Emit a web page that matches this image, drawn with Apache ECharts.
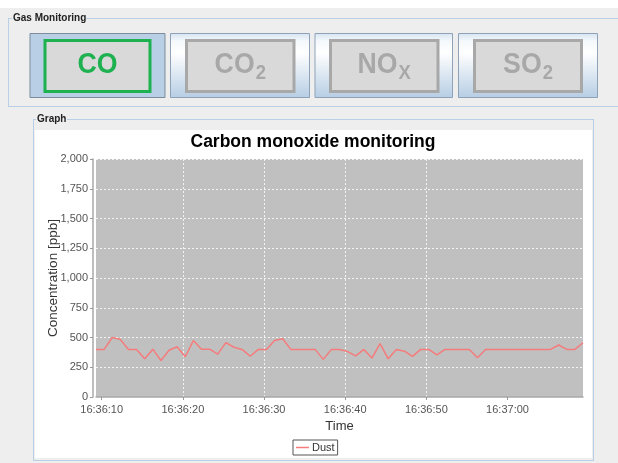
<!DOCTYPE html>
<html>
<head>
<meta charset="utf-8">
<script src="https://cdn.jsdelivr.net/npm/echarts@6/dist/echarts.min.js"></script>
<style>
html,body{margin:0;padding:0;background:#eeeeee;}
#c{width:618px;height:463px;}
</style>
</head>
<body>
<div id="c"></div>
<script>
// ---------------- data ----------------
const chartTitle = 'Carbon monoxide monitoring';
const panelTitle = 'Gas Monitoring';
const graphTitle = 'Graph';
const yAxisName = 'Concentration [ppb]';
const xAxisName = 'Time';
const seriesName = 'Dust';
const gasMain = ['CO', 'CO', 'NO', 'SO'];
const gasSub  = ['',   '2',  'X',  '2'];
// sample times, seconds after 16:36:00
const timeSec = [9.3,10.3,11.3,12.3,13.3,14.3,15.3,16.3,17.3,18.3,19.3,20.3,21.3,22.3,23.3,24.3,25.3,26.3,27.3,28.3,
  29.3,30.3,31.3,32.3,33.3,34.3,35.3,36.3,37.3,38.3,39.3,40.3,41.3,42.3,43.3,44.3,45.3,46.3,47.3,48.3,
  49.3,50.3,51.3,52.3,53.3,54.3,55.3,56.3,57.3,58.3,59.3,60.3,61.3,62.3,63.3,64.3,65.3,66.3,67.3,68.3,69.3];
const dust = [400,400,500,483,400,400,322,402,307,393,422,338,474,402,402,360,457,418,400,342,
  400,400,474,490,400,400,400,400,316,400,400,382,346,400,327,449,321,400,385,341,
  400,400,355,400,400,400,400,330,400,400,400,400,400,400,400,400,400,437,400,400,456];
const xTickSec = [10, 20, 30, 40, 50, 60];
const xTickLabels = ['16:36:10', '16:36:20', '16:36:30', '16:36:40', '16:36:50', '16:37:00'];
const yMin = 0, yMax = 2000, yStep = 250;

// ---------------- layout / style ----------------
const FONT = '"Liberation Sans", Arial, sans-serif';
const BLUE = '#b8cfe5';
const ZB = -20;
const mctx = document.createElement('canvas').getContext('2d');
function tw(text, size, weight) { mctx.font = (weight || 'normal') + ' ' + size + 'px ' + FONT; return mctx.measureText(text).width; }
function hline(x1, x2, y) { return {type:'line', z:ZB, silent:true, shape:{x1:x1, y1:y, x2:x2, y2:y}, style:{stroke:BLUE, lineWidth:1}}; }
function vline(x, y1, y2) { return {type:'line', z:ZB, silent:true, shape:{x1:x, y1:y1, x2:x, y2:y2}, style:{stroke:BLUE, lineWidth:1}}; }

const g = [];
g.push({type:'rect', z:ZB, silent:true, shape:{x:0, y:0, width:618, height:8}, style:{fill:'#ffffff'}});
// Gas Monitoring titled border
g.push(hline(8, 12, 18.5), hline(86, 618, 18.5), hline(8, 618, 106.5), vline(8.5, 18.5, 106.5));
g.push({type:'text', z:ZB, silent:true, x:13, y:18.5, style:{text:panelTitle, fontSize:10, fontWeight:'bold', fontFamily:FONT, fill:'#222', align:'left', verticalAlign:'middle'}});
// Graph titled border
g.push(hline(33, 36, 119.5), hline(67, 594, 119.5), hline(33, 594, 460.5), vline(33.5, 119.5, 460.5), vline(593.5, 119.5, 460.5));
g.push({type:'text', z:ZB, silent:true, x:37, y:119.5, style:{text:graphTitle, fontSize:10, fontWeight:'bold', fontFamily:FONT, fill:'#222', align:'left', verticalAlign:'middle'}});
g.push({type:'rect', z:ZB - 1, silent:true, shape:{x:35, y:130, width:557, height:328}, style:{fill:'#ffffff'}});

// buttons
const btnBox = [[29.5, 165.5], [170, 310], [314.5, 453], [458, 598]];
const innerBox = [[43.5, 151.5], [185, 295.5], [329, 439.5], [473, 583]];
const SX = 0.92, MAIN = 29, SUB = 20;
for (let i = 0; i < 4; i++) {
  const sel = i === 0;
  const [bx1, bx2] = btnBox[i];
  g.push({type:'rect', z:ZB, silent:true, shape:{x:bx1 + 0.5, y:33.5, width:bx2 - bx1 - 1, height:64},
    style:{fill: sel ? '#b8cfe6' : new echarts.graphic.LinearGradient(0, 0, 0, 1, [
      {offset:0, color:'#d5e3f1'}, {offset:0.12, color:'#f4f8fc'}, {offset:0.3, color:'#ffffff'}, {offset:1, color:'#b6cde4'}]),
      stroke: sel ? '#7d8c9b' : '#8fa3b8', lineWidth:1}});
  const [ix1, ix2] = innerBox[i];
  const col = sel ? '#1db150' : '#a8a8a8';
  g.push({type:'rect', z:ZB + 1, silent:true, shape:{x:ix1 + 1.5, y:40.5, width:ix2 - ix1 - 3, height:51},
    style:{fill:'#d9d9d9', stroke:col, lineWidth:3}});
  const wm = tw(gasMain[i], MAIN, 'bold') * SX;
  const ws = gasSub[i] ? tw(gasSub[i], SUB, 'bold') * SX + 1 : 0;
  const left = (ix1 + ix2) / 2 - (wm + ws) / 2;
  g.push({type:'text', z:ZB + 2, silent:true, x:left, y:65, scaleX:SX, style:{text:gasMain[i], fontSize:MAIN, fontWeight:'bold', fontFamily:FONT, fill:col, align:'left', verticalAlign:'middle'}});
  if (gasSub[i]) {
    g.push({type:'text', z:ZB + 2, silent:true, x:left + wm + 1, y:73, scaleX:SX, style:{text:gasSub[i], fontSize:SUB, fontWeight:'bold', fontFamily:FONT, fill:col, align:'left', verticalAlign:'middle'}});
  }
}

const chart = echarts.init(document.getElementById('c'), null, {renderer:'canvas', width:618, height:463});
chart.setOption({
  animation: false,
  backgroundColor: '#eeeeee',
  graphic: {elements: g},
  title: {
    text: chartTitle, left: 313, top: 133, textAlign: 'center', padding: 0,
    textStyle: {fontSize: 17.5, fontWeight: 'bold', fontFamily: FONT, color: '#000'}
  },
  legend: {
    left: 293, top: 440, padding: [2, 3, 2, 3], itemWidth: 13, itemHeight: 1.5, itemGap: 4,
    icon: 'rect',
    borderColor: '#555', borderWidth: 1, backgroundColor: '#ffffff', borderRadius: 0,
    textStyle: {fontSize: 11, fontFamily: FONT, color: '#333', padding: [0, 0, 0, -2]},
    data: [seriesName]
  },
  grid: {left: 96, right: 35, top: 159, bottom: 66, show: true, backgroundColor: '#c0c0c0', borderWidth: 0, containLabel: false, z: 0},
  xAxis: {
    type: 'value', min: timeSec[0], max: timeSec[timeSec.length - 1], offset: 4,
    name: xAxisName, nameLocation: 'middle', nameGap: 19, nameMoveOverlap: false,
    nameTextStyle: {fontSize: 13, fontFamily: FONT, color: '#333'},
    axisLine: {show: true, lineStyle: {color: '#a8a8a8', width: 1.5}},
    axisTick: {show: true, length: 3, customValues: xTickSec, lineStyle: {color: '#999'}},
    axisLabel: {customValues: xTickSec, margin: 3, fontSize: 11, fontFamily: FONT, color: '#555',
      formatter: v => xTickLabels[xTickSec.indexOf(Math.round(v))] || ''},
    splitLine: {show: true, showMinLine: false, showMaxLine: false,
      lineStyle: {color: 'rgba(255,255,255,0.8)', type: [2, 2], width: 1}}
  },
  yAxis: {
    type: 'value', min: yMin, max: yMax, interval: yStep, offset: 3,
    name: yAxisName, nameLocation: 'middle', nameRotate: 90, nameGap: 33, nameMoveOverlap: false,
    nameTextStyle: {fontSize: 13.5, fontFamily: FONT, color: '#333'},
    axisLine: {show: true, lineStyle: {color: '#a8a8a8', width: 1.5}},
    axisTick: {show: true, length: 3, lineStyle: {color: '#999'}},
    axisLabel: {margin: 5, fontSize: 11, fontFamily: FONT, color: '#555',
      formatter: v => v.toLocaleString('en-US')},
    splitLine: {show: true, lineStyle: {color: 'rgba(255,255,255,0.8)', type: [2, 2], width: 1}}
  },
  series: [{
    name: seriesName, type: 'line', symbol: 'none', showSymbol: false,
    data: timeSec.map((t, i) => [t, dust[i]]),
    lineStyle: {color: '#f47c7c', width: 1.5}, itemStyle: {color: '#f47c7c'}
  }]
});
</script>
</body>
</html>
